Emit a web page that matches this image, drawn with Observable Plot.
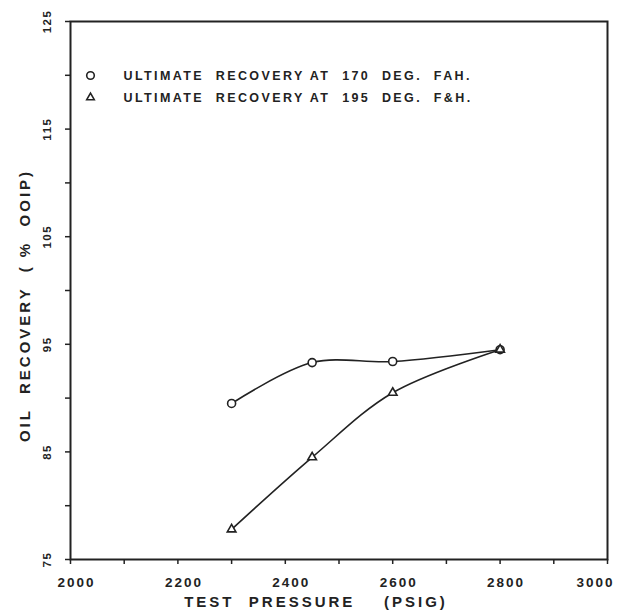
<!DOCTYPE html>
<html>
<head>
<meta charset="utf-8">
<script src="https://cdn.jsdelivr.net/npm/d3@7"></script>
<script src="https://cdn.jsdelivr.net/npm/@observablehq/plot@0.6"></script>
<style>
  html, body { margin: 0; padding: 0; background: #fff; }
  #chart svg text { font-family: "Liberation Sans", Arial, sans-serif; font-weight: bold; fill: #222; }
  #chart g[aria-description="xticklabels"] text { letter-spacing: 2px; }
  #chart g[aria-description="yticklabels"] text { letter-spacing: 1.5px; }
  #chart g[aria-description="xtitle"] text { letter-spacing: 3px; white-space: pre; }
  #chart g[aria-description="ytitle"] text { letter-spacing: 3px; white-space: pre; }
  #chart g[aria-description="legendtext"] text { letter-spacing: 2.4px; white-space: pre; }
</style>
</head>
<body>
<div id="chart"></div>
<script>
const pressure = [2300, 2450, 2600, 2800];
const recovery170 = [89.5, 93.3, 93.4, 94.5];
const recovery195 = [77.8, 84.5, 90.5, 94.5];
const legendLabels = ["ULTIMATE  RECOVERY AT  170  DEG.  FAH.", "ULTIMATE  RECOVERY AT  195  DEG.  F&H."];
const xTickLabels = [2000, 2200, 2400, 2600, 2800];
const xLastLabel = [3000];
const xMinorTicks = [2000, 2100, 2200, 2300, 2400, 2500, 2600, 2700, 2800, 2900, 3000];
const yTickLabels = [75, 85, 95, 105, 115, 125];
const yMinorTicks = [75, 80, 85, 90, 95, 100, 105, 110, 115, 120, 125];
const xTitle = "TEST  PRESSURE    (PSIG)";
const yTitle = "OIL  RECOVERY  ( %  OOIP)";

const s170 = pressure.map((p, i) => ({x: p, y: recovery170[i]}));
const s195 = pressure.map((p, i) => ({x: p, y: recovery195[i]}));

const ink = "#222";
const chart = Plot.plot({
  width: 621,
  height: 611,
  marginLeft: 70,
  marginRight: 14,
  marginTop: 21,
  marginBottom: 52,
  style: {background: "#fff", overflow: "visible"},
  x: {domain: [2000, 3000]},
  y: {domain: [75, 125]},
  marks: [
    Plot.frame({stroke: ink, strokeWidth: 2}),
    Plot.axisX({ticks: xMinorTicks, tickSize: 5, tickFormat: () => "", label: null, stroke: ink, strokeWidth: 1.5}),
    Plot.text(xTickLabels, {x: d => d, text: d => String(d), frameAnchor: "bottom", dy: 23, dx: 6, lineAnchor: "middle", fontSize: 13.5, ariaDescription: "xticklabels"}),
    Plot.text(xLastLabel, {x: d => d, text: d => String(d), frameAnchor: "bottom", dy: 23, dx: -12, lineAnchor: "middle", fontSize: 13.5, ariaDescription: "xticklabels"}),
    Plot.axisY({ticks: yMinorTicks, tickSize: 5, tickFormat: () => "", label: null, stroke: ink, strokeWidth: 1.5}),
    Plot.text(yTickLabels, {y: d => d, text: d => String(d), frameAnchor: "left", dx: -23, rotate: -90, textAnchor: "middle", lineAnchor: "middle", fontSize: 11.5, ariaDescription: "yticklabels"}),
    Plot.text([xTitle], {text: d => d, frameAnchor: "bottom", dx: -23, dy: 43, lineAnchor: "middle", fontSize: 15, ariaDescription: "xtitle"}),
    Plot.text([yTitle], {text: d => d, frameAnchor: "left", dx: -45, dy: 15, rotate: -90, textAnchor: "middle", lineAnchor: "middle", fontSize: 15, ariaDescription: "ytitle"}),
    Plot.line(s170, {x: "x", y: "y", curve: "catmull-rom", stroke: ink, strokeWidth: 1.6}),
    Plot.line(s195, {x: "x", y: "y", curve: "catmull-rom", stroke: ink, strokeWidth: 1.6}),
    Plot.dot(s170, {x: "x", y: "y", r: 4, symbol: "circle", fill: "#fff", stroke: ink, strokeWidth: 1.6}),
    Plot.dot(s195, {x: "x", y: "y", r: 3.2, symbol: "triangle", fill: "#fff", stroke: ink, strokeWidth: 1.6}),
    Plot.dot([legendLabels[0]], {frameAnchor: "top-left", dx: 20, dy: 54, r: 3.8, symbol: "circle", fill: "#fff", stroke: ink, strokeWidth: 1.6}),
    Plot.dot([legendLabels[1]], {frameAnchor: "top-left", dx: 20, dy: 76, r: 2.8, symbol: "triangle", fill: "#fff", stroke: ink, strokeWidth: 1.6}),
    Plot.text([legendLabels[0]], {text: d => d, frameAnchor: "top-left", dx: 53, dy: 54, textAnchor: "start", lineAnchor: "middle", fontSize: 12.5, ariaDescription: "legendtext"}),
    Plot.text([legendLabels[1]], {text: d => d, frameAnchor: "top-left", dx: 53, dy: 76, textAnchor: "start", lineAnchor: "middle", fontSize: 12.5, ariaDescription: "legendtext"})
  ]
});
document.getElementById("chart").appendChild(chart);
</script>
</body>
</html>
